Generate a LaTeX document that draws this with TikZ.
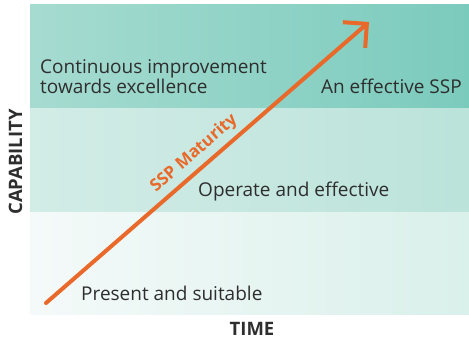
\documentclass[tikz,border=0pt]{standalone}
\usepackage{fontspec}
\setmainfont{Open Sans}
\usetikzlibrary{arrows.meta}

\definecolor{ssporange}{HTML}{E8692A}
\definecolor{txtgrey}{HTML}{2E2E2E}
\definecolor{hiL}{HTML}{A6DBD0}
\definecolor{hiR}{HTML}{7BCBBD}
\definecolor{midL}{HTML}{D2ECE6}
\definecolor{midR}{HTML}{BBE3DA}
\definecolor{loL}{HTML}{F4FAF9}
\definecolor{loR}{HTML}{DAF0EA}

\tikzset{
  lbl/.style={text=txtgrey, font=\fontsize{19}{20}\selectfont, inner sep=0pt, align=left},
  axlbl/.style={text=txtgrey, font=\fontsize{18.5}{20}\selectfont\bfseries, inner sep=0pt},
  maturity/.style={draw=ssporange, line width=4pt, line cap=round,
    -{Straight Barb[length=17pt,width=34pt,sharp]}}
}

\begin{document}
\begin{tikzpicture}[x=1pt,y=-1pt]
  \useasboundingbox (0,0) rectangle (469,339);
  % capability bands
  \shade[left color=loL, right color=loR] (30,212) rectangle (469,315);
  \shade[left color=midL, right color=midR] (30,108) rectangle (469,212);
  \shade[left color=hiL, right color=hiR] (30,5) rectangle (469,108);

  \node[lbl, anchor=base west] (cont) at (40,94) {Continuous improvement\\towards excellence};
  \node[lbl, anchor=base east] (eff) at (462,94) {An effective SSP};
  \node[lbl, anchor=base west] (oper) at (198,197) {Operate and effective};
  \node[lbl, anchor=base west] (pres) at (81,301) {Present and suitable};

  % axes
  \node[axlbl, rotate=90] (cap) at (15.5,162) {CAPABILITY};
  \node[axlbl, anchor=base] (time) at (252,335) {TIME};

  % maturity arrow
  \coordinate (start) at (46,303);
  \coordinate (tip) at (369,22);
  \draw[maturity] (start) -- node[pos=0.49, sloped, above=5pt, inner sep=0pt,
    text=ssporange, font=\fontsize{17}{19}\selectfont\bfseries] (mat) {SSP Maturity} (tip);
\end{tikzpicture}
\end{document}
